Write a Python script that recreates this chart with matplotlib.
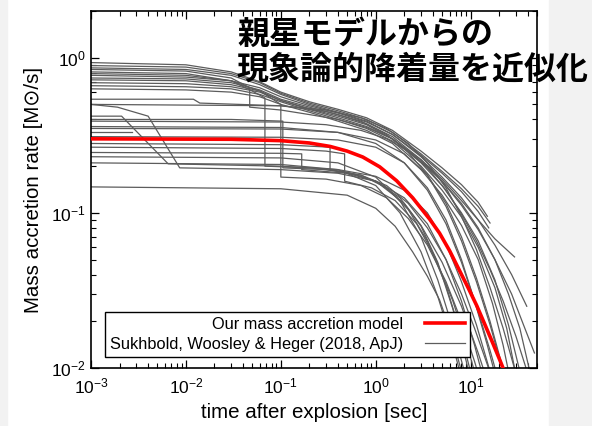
import matplotlib
matplotlib.use('Agg')
import matplotlib.pyplot as plt
from matplotlib.patches import Rectangle

plt.rcParams['font.family'] = ['Liberation Sans', 'DejaVu Sans']
plt.rcParams['mathtext.fontset'] = 'custom'
plt.rcParams['mathtext.rm'] = 'Liberation Sans'
plt.rcParams['mathtext.it'] = 'Liberation Sans:italic'
plt.rcParams['mathtext.bf'] = 'Liberation Sans:bold'

# model accretion history (time [s], Mdot [Msun/s])
model_t = [0.001, 0.03, 0.1, 0.2, 0.33, 0.5, 0.73, 1.1, 1.66, 2.45, 3.7, 4.7,
           6.0, 7.7, 9.5, 11.6, 14, 17, 20, 23]
model_mdot = [0.300, 0.298, 0.292, 0.282, 0.268, 0.250, 0.229, 0.198, 0.161,
              0.125, 0.091, 0.074, 0.057, 0.042, 0.0325, 0.0252, 0.0193,
              0.0146, 0.0115, 0.0093]

# progenitor runs, massive cores
runs_upper = [
    ([0.001, 0.01, 0.03, 0.06, 0.1, 0.2, 0.4, 0.8, 1.5, 3, 5, 8, 12, 15],
     [0.93, 0.90, 0.81, 0.70, 0.60, 0.52, 0.465, 0.41, 0.34, 0.25, 0.195, 0.152, 0.117, 0.095]),
    ([0.001, 0.01, 0.03, 0.06, 0.1, 0.2, 0.4, 0.8, 1.5, 3, 5, 8, 12, 16],
     [0.89, 0.87, 0.79, 0.69, 0.59, 0.51, 0.455, 0.40, 0.33, 0.24, 0.185, 0.143, 0.11, 0.086]),
    ([0.001, 0.01, 0.03, 0.06, 0.1, 0.2, 0.4, 0.8, 1.5, 3, 5, 8, 12, 15.5],
     [0.86, 0.84, 0.77, 0.67, 0.58, 0.50, 0.445, 0.39, 0.32, 0.235, 0.18, 0.137, 0.102, 0.08]),
    ([0.001, 0.01, 0.03, 0.06, 0.1, 0.2, 0.4, 0.8, 1.5, 3, 5, 8, 12, 18, 27, 39],
     [0.77, 0.75, 0.71, 0.64, 0.56, 0.49, 0.44, 0.385, 0.32, 0.23, 0.17, 0.125, 0.09, 0.062, 0.04, 0.025]),
    ([0.001, 0.01, 0.03, 0.06, 0.1, 0.2, 0.4, 0.8, 1.5, 3, 5, 8, 12, 18, 27, 36, 47],
     [0.74, 0.73, 0.69, 0.62, 0.54, 0.48, 0.43, 0.375, 0.31, 0.22, 0.16, 0.115, 0.08, 0.05, 0.03, 0.019, 0.0125]),
    ([0.001, 0.01, 0.03, 0.06, 0.1, 0.2, 0.4, 0.8, 1.5, 3, 5, 8, 12, 18, 25, 33],
     [0.72, 0.71, 0.67, 0.61, 0.53, 0.47, 0.42, 0.37, 0.30, 0.21, 0.15, 0.10, 0.066, 0.037, 0.019, 0.0095]),
    ([0.001, 0.01, 0.03, 0.06, 0.1, 0.2, 0.4, 0.8, 1.5, 3, 5, 8, 12, 18, 25, 33, 42],
     [0.69, 0.68, 0.65, 0.60, 0.53, 0.465, 0.41, 0.36, 0.30, 0.215, 0.16, 0.112, 0.078, 0.05, 0.03, 0.018, 0.0095]),
    ([0.001, 0.01, 0.03, 0.06, 0.1, 0.2, 0.4, 0.8, 1.5, 3, 5, 8, 12, 18, 24, 30],
     [0.66, 0.65, 0.63, 0.58, 0.52, 0.455, 0.40, 0.35, 0.29, 0.20, 0.14, 0.094, 0.06, 0.033, 0.018, 0.009]),
    ([0.001, 0.01, 0.03, 0.06, 0.1, 0.2, 0.4, 0.8, 1.5, 3, 5, 8, 12, 17, 22, 26],
     [0.63, 0.62, 0.60, 0.56, 0.50, 0.445, 0.39, 0.34, 0.28, 0.19, 0.13, 0.083, 0.05, 0.026, 0.014, 0.0085]),
]

# runs with a sudden drop at a shell interface
runs_stepped = [
    ([0.001, 0.01, 0.03, 0.047, 0.047, 0.1, 0.2, 0.4, 0.8, 1.5, 3, 5, 8, 12, 18, 29],
     [0.84, 0.82, 0.74, 0.64, 0.48, 0.46, 0.43, 0.40, 0.355, 0.30, 0.22, 0.165, 0.12, 0.09, 0.068, 0.052]),
    ([0.001, 0.01, 0.03, 0.05, 0.068, 0.068, 0.2, 0.5, 1, 2, 3, 5, 8, 12, 17],
     [0.81, 0.79, 0.71, 0.61, 0.55, 0.20, 0.195, 0.183, 0.16, 0.115, 0.083, 0.048, 0.025, 0.0125, 0.0065]),
    ([0.001, 0.01, 0.03, 0.06, 0.1, 0.1, 0.3, 0.7, 1.3, 2.2, 3.5, 5.5, 8, 11, 15],
     [0.79, 0.77, 0.71, 0.61, 0.50, 0.17, 0.165, 0.15, 0.125, 0.092, 0.062, 0.036, 0.02, 0.011, 0.0058]),
    ([0.001, 0.03, 0.105, 0.105, 0.3, 0.7, 1.3, 2.2, 3.5, 5.5, 8, 11, 15, 20],
     [0.40, 0.40, 0.39, 0.195, 0.19, 0.175, 0.15, 0.115, 0.08, 0.05, 0.03, 0.018, 0.0105, 0.006]),
    ([0.001, 0.1, 0.33, 0.33, 0.7, 1.3, 2.2, 3.5, 5.5, 8, 11],
     [0.28, 0.275, 0.265, 0.19, 0.175, 0.145, 0.105, 0.066, 0.034, 0.016, 0.0075]),
    ([0.001, 0.1, 0.3, 0.47, 0.47, 0.9, 1.6, 2.7, 4.2, 6.5, 9.5, 13.5],
     [0.265, 0.26, 0.25, 0.24, 0.16, 0.145, 0.12, 0.085, 0.052, 0.027, 0.013, 0.006]),
    ([0.001, 0.1, 0.166, 0.166, 0.5, 1, 1.8, 3, 4.5, 6.5, 9, 12],
     [0.245, 0.242, 0.24, 0.19, 0.18, 0.16, 0.125, 0.082, 0.048, 0.024, 0.011, 0.005]),
    ([0.001, 0.0019, 0.004, 0.0086, 0.1, 0.4, 1, 2, 3.5, 5.5, 8, 11, 15],
     [0.50, 0.48, 0.42, 0.195, 0.19, 0.18, 0.16, 0.125, 0.085, 0.05, 0.027, 0.014, 0.0068]),
    ([0.001, 0.0021, 0.0065, 0.1, 0.4, 1, 2, 3.5, 5.5, 8, 11.5, 16],
     [0.42, 0.42, 0.207, 0.20, 0.19, 0.172, 0.14, 0.1, 0.063, 0.036, 0.019, 0.0095]),
]

# intermediate cores
runs_middle = [
    ([0.001, 0.012, 0.014, 0.1, 0.3, 0.7, 1.3, 2.2, 3.5, 5.5, 8, 11.5, 16, 22],
     [0.54, 0.54, 0.51, 0.49, 0.45, 0.39, 0.32, 0.245, 0.175, 0.11, 0.066, 0.036, 0.019, 0.0095]),
    ([0.001, 0.1, 0.3, 0.7, 1.3, 2.2, 3.5, 5.5, 8, 11.5, 16, 22, 30],
     [0.50, 0.49, 0.46, 0.41, 0.35, 0.28, 0.21, 0.145, 0.095, 0.058, 0.033, 0.018, 0.0092]),
    ([0.001, 0.1, 0.3, 0.7, 1.3, 2.2, 3.5, 5.5, 8, 11.5, 16, 22, 30, 40],
     [0.39, 0.385, 0.37, 0.34, 0.30, 0.25, 0.195, 0.14, 0.098, 0.066, 0.043, 0.027, 0.016, 0.0092]),
    ([0.001, 0.1, 0.4, 1, 2, 3.5, 5.5, 8, 11.5, 16, 22],
     [0.36, 0.355, 0.33, 0.28, 0.21, 0.14, 0.085, 0.048, 0.025, 0.013, 0.0065]),
    ([0.001, 0.1, 0.4, 1, 2, 3.5, 5.5, 8, 11.5, 16, 22],
     [0.35, 0.347, 0.33, 0.295, 0.24, 0.175, 0.115, 0.07, 0.038, 0.02, 0.0098]),
    ([0.001, 0.0027],
     [0.33, 0.33]),
    ([0.001, 0.1, 0.4, 1, 2, 3.5, 5.5, 8, 11, 15, 20],
     [0.31, 0.307, 0.295, 0.265, 0.21, 0.145, 0.09, 0.05, 0.027, 0.014, 0.0072]),
]

# low-mass cores
runs_lower = [
    ([0.001, 0.1, 0.4, 1, 1.8, 3, 4.5, 6.5, 9],
     [0.23, 0.226, 0.21, 0.17, 0.12, 0.07, 0.037, 0.018, 0.0085]),
    ([0.001, 0.1, 0.4, 1, 1.8, 3, 4.5, 6.5, 9],
     [0.21, 0.205, 0.19, 0.15, 0.1, 0.056, 0.029, 0.014, 0.0065]),
    ([0.001, 0.1, 0.5, 1, 1.6, 2.45, 3.5, 4.7, 6.2, 8],
     [0.147, 0.143, 0.13, 0.107, 0.082, 0.056, 0.039, 0.0275, 0.017, 0.0095]),
]

legend_labels = ['Our mass accretion model', 'Sukhbold, Woosley & Heger (2018, ApJ)']
title_text = '親星モデルからの\n現象論的降着量を近似化'

fig = plt.figure(figsize=(5.92, 4.26), dpi=100)
fig.patches.append(Rectangle((0, 0), 7 / 592, 1, transform=fig.transFigure,
                             color='#f2f2f2', zorder=-10))
fig.patches.append(Rectangle((549 / 592, 0), 43 / 592, 1, transform=fig.transFigure,
                             color='#f2f2f2', zorder=-10))

ax = fig.add_axes([91 / 592, 58 / 426, 446 / 592, 357 / 426])
ax.set_xscale('log')
ax.set_yscale('log')

gray = None
for group in (runs_upper, runs_stepped, runs_middle, runs_lower):
    for t, mdot in group:
        gray, = ax.plot(t, mdot, color='#5c5c5c', lw=0.9, zorder=2)

red, = ax.plot(model_t, model_mdot, color='red', lw=2.6, zorder=3)

ax.set_xlim(1e-3, 50)
ax.set_ylim(1e-2, 2)

ax.tick_params(which='both', direction='in', top=True, right=True, labelsize=12.5)
ax.tick_params(axis='x', which='major', pad=6)
ax.tick_params(which='major', length=6, width=0.9)
ax.tick_params(which='minor', length=3.5, width=0.8)
for sp in ax.spines.values():
    sp.set_linewidth(1.2)

ax.set_xlabel('time after explosion [sec]', fontsize=14.8, labelpad=5)
ax.set_ylabel('Mass accretion rate [M⊙/s]', fontsize=14.8, labelpad=6)

# handles sit to the right of the labels
leg = ax.legend([red, gray], legend_labels, loc='lower left',
                bbox_to_anchor=(0.031, 0.031), borderaxespad=0, markerfirst=False,
                fancybox=False, framealpha=1, edgecolor='black', fontsize=11.8,
                handlelength=2.4, handletextpad=1.35, labelspacing=0.28,
                borderpad=0.32)
leg.get_frame().set_linewidth(1.0)
leg.set_zorder(5)

fig.text(237 / 592, 1 - 19 / 426, title_text, ha='left', va='top',
         fontsize=23, fontweight='bold', family=['Noto Sans CJK JP'],
         linespacing=1.12, zorder=10)

fig.savefig('out.png', dpi=100)
